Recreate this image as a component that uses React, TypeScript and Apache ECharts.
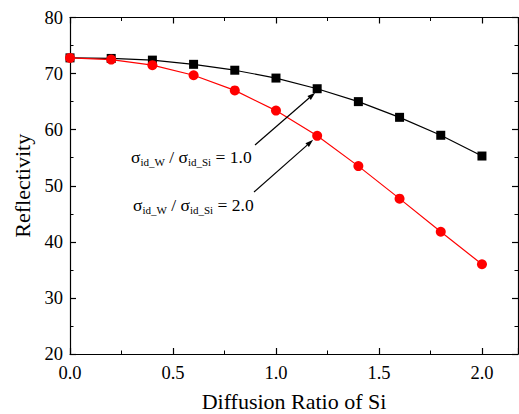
import React, { useEffect, useRef } from "react";
import * as echarts from "echarts";

const xValues = [0, 0.2, 0.4, 0.6, 0.8, 1.0, 1.2, 1.4, 1.6, 1.8, 2.0];
const ratio1 = [72.8, 72.7, 72.4, 71.65, 70.6, 69.2, 67.3, 65.0, 62.2, 59.0, 55.3];
const ratio2 = [72.8, 72.5, 71.5, 69.7, 67.0, 63.4, 58.9, 53.5, 47.7, 41.8, 36.0];
const xTitle = "Diffusion Ratio of Si";
const yTitle = "Reflectivity";

const FONT = "Liberation Serif";

export default function App() {
  const ref = useRef<HTMLDivElement>(null);
  useEffect(() => {
    const chart = echarts.init(ref.current!, null, { renderer: "svg" });
    const axisCommon = {
      axisLine: { show: true, onZero: false, lineStyle: { color: "#000", width: 1.2 } },
      axisTick: { show: true, inside: true, length: 6, lineStyle: { color: "#000", width: 1.2 } },
      minorTick: { show: true, splitNumber: 2, length: 3.5, lineStyle: { color: "#000", width: 1 } },
      splitLine: { show: false },
      minorSplitLine: { show: false },
    };
    const option: any = {
      animation: false,
      backgroundColor: "#fff",
      textStyle: { fontFamily: FONT },
      grid: { left: 70, right: 1, top: 17.5, bottom: 60, containLabel: false, outerBoundsMode: "none" },
      xAxis: [
        {
          type: "value",
          min: 0,
          max: 2.175,
          interval: 0.5,
          position: "bottom",
          name: xTitle,
          nameLocation: "middle",
          nameGap: 36,
          nameTextStyle: { fontFamily: FONT, fontSize: 22, color: "#000" },
          axisLabel: {
            fontFamily: FONT,
            fontSize: 18.5,
            color: "#000",
            margin: 9,
            showMaxLabel: false,
            formatter: (v: number) => v.toFixed(1),
          },
          ...axisCommon,
        },
        {
          type: "value",
          min: 0,
          max: 2.175,
          interval: 0.5,
          position: "top",
          axisLabel: { show: false },
          ...axisCommon,
        },
      ],
      yAxis: [
        {
          type: "value",
          min: 20,
          max: 80,
          interval: 10,
          position: "left",
          name: yTitle,
          nameLocation: "middle",
          nameGap: 37,
          nameTextStyle: { fontFamily: FONT, fontSize: 22, color: "#000" },
          axisLabel: { fontFamily: FONT, fontSize: 18.5, color: "#000", margin: 7 },
          ...axisCommon,
        },
        {
          type: "value",
          min: 20,
          max: 80,
          interval: 10,
          position: "right",
          axisLabel: { show: false },
          ...axisCommon,
        },
      ],
      series: [
        {
          type: "line",
          name: "1.0",
          data: xValues.map((x, i) => [x, ratio1[i]]),
          symbol: "rect",
          symbolSize: 9,
          clip: false,
          itemStyle: { color: "#000" },
          lineStyle: { color: "#000", width: 1.2 },
          z: 3,
        },
        {
          type: "line",
          name: "2.0",
          data: xValues.map((x, i) => [x, ratio2[i]]),
          symbol: "circle",
          symbolSize: 10,
          clip: false,
          itemStyle: { color: "#ff0000" },
          lineStyle: { color: "#ff0000", width: 1.2 },
          z: 4,
        },
      ],
    };
    chart.setOption(option);

    const arrow = (sx: number, sy: number, ex: number, ey: number) => {
      const ang = Math.atan2(ey - sy, ex - sx);
      const L = 8, W = 2.6;
      const bx = ex - L * Math.cos(ang), by = ey - L * Math.sin(ang);
      const px = -Math.sin(ang), py = Math.cos(ang);
      return [
        { type: "line", shape: { x1: sx, y1: sy, x2: bx, y2: by }, style: { stroke: "#000", lineWidth: 1.2 }, z: 10 },
        {
          type: "polygon",
          shape: { points: [[ex, ey], [bx + px * W, by + py * W], [bx - px * W, by - py * W]] },
          style: { fill: "#000" },
          z: 10,
        },
      ];
    };
    const p1 = chart.convertToPixel({ gridIndex: 0 }, [1.2, ratio1[6]]) as number[];
    const p2 = chart.convertToPixel({ gridIndex: 0 }, [1.2, ratio2[6]]) as number[];
    const rich = {
      s: { fontFamily: FONT, fontSize: 17.5, fill: "#000" },
      sub: { fontFamily: FONT, fontSize: 11, fill: "#000", padding: [10, 0, 0, 0] },
    };
    const label = (x: number, y: number, v: string) => ({
      type: "text",
      x,
      y,
      style: {
        text: `{s|σ}{sub|id_W}{s| / σ}{sub|id_Si}{s| = ${v}}`,
        rich,
        textVerticalAlign: "middle",
        verticalAlign: "middle",
        fill: "#000",
      },
      z: 10,
    });
    chart.setOption({
      graphic: [
        ...arrow(255, 145, p1[0] - 2, p1[1] + 4),
        ...arrow(254, 192, p2[0] - 4, p2[1] + 4),
        label(131, 157, "1.0"),
        label(133, 205, "2.0"),
      ],
    });
    return () => chart.dispose();
  }, []);
  return <div ref={ref} style={{ position: "fixed", left: 0, top: 0, width: 519, height: 414 }} />;
}
